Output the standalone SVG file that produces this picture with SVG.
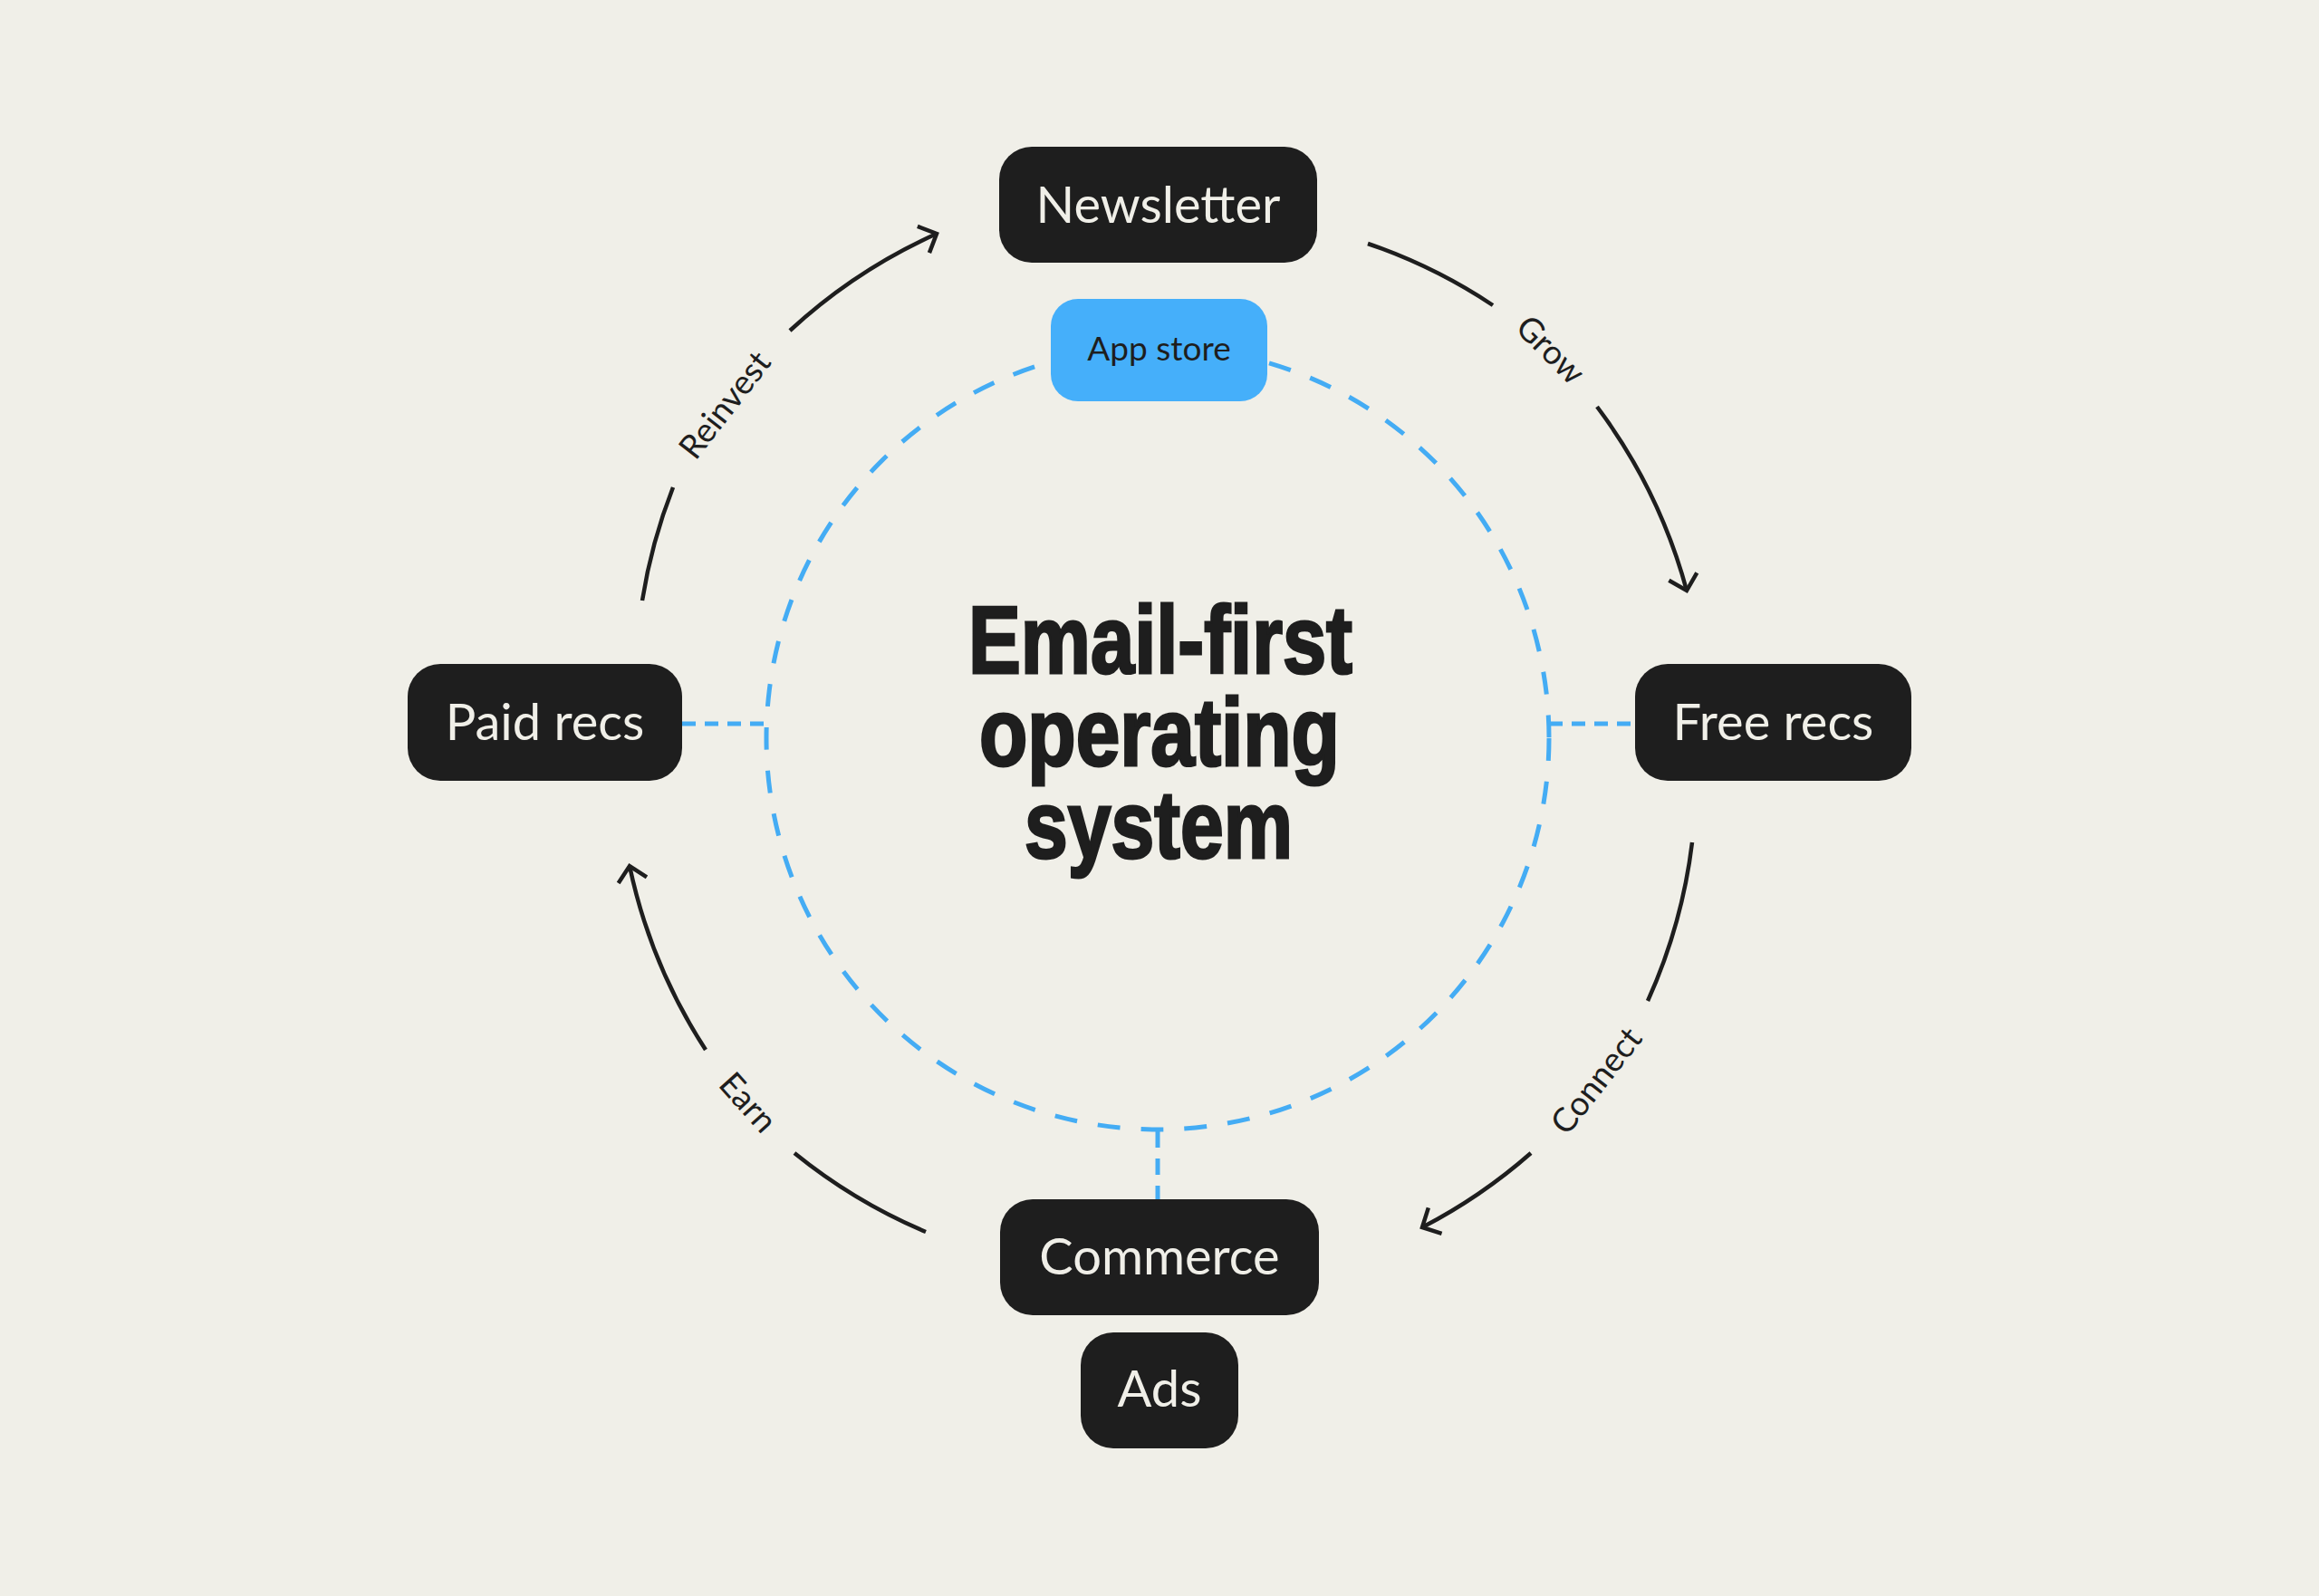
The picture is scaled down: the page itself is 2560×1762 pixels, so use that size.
<svg xmlns="http://www.w3.org/2000/svg" width="2560" height="1762" viewBox="0 0 2560 1762">
<defs>
<style>
.box{fill:#1E1E1E}
.lbl{font-family:Lato,"Noto Sans",sans-serif;font-size:56px;fill:#F0EFE8;text-anchor:middle}
.arc{fill:none;stroke:#1E1E1E;stroke-width:4.5;stroke-linecap:butt}
.dash{fill:none;stroke:#44ACF4;stroke-width:5}
.edge{font-family:Lato,"Noto Sans",sans-serif;font-size:37px;fill:#1E1E1E;text-anchor:middle}
.title{font-family:"Liberation Sans",Arial,sans-serif;font-weight:700;font-size:105px;fill:#1E1E1E;stroke:#1E1E1E;stroke-width:3;text-anchor:middle}
</style>
<marker id="arr" markerUnits="userSpaceOnUse" markerWidth="40" markerHeight="40" refX="0" refY="0" viewBox="-20 -20 40 40" orient="auto" overflow="visible">
<path d="M-16,-16 L0,0 L-16,16" fill="none" stroke="#1E1E1E" stroke-width="4.5" stroke-linejoin="miter"/>
</marker>
</defs>
<rect x="0" y="0" width="2560" height="1762" fill="#F0EFE8"/>

<g id="connectors">
<circle class="dash" cx="1278" cy="815" r="432" stroke-dasharray="25 23"/>
<line class="dash" x1="753" y1="799" x2="846" y2="799" stroke-dasharray="15 10"/>
<line class="dash" x1="1710" y1="799" x2="1805" y2="799" stroke-dasharray="15 10"/>
<line class="dash" x1="1278" y1="1249" x2="1278" y2="1324" stroke-dasharray="18 12"/>
<path class="arc" d="M1510,269 A600,600 0 0 1 1648,337"/>
<path class="arc" d="M1763,449 A600,600 0 0 1 1862,652" marker-end="url(#arr)"/>
<path class="arc" d="M1868,930 A600,600 0 0 1 1819,1105"/>
<path class="arc" d="M1690,1273 A600,600 0 0 1 1570,1355" marker-end="url(#arr)"/>
<path class="arc" d="M1022,1360 A600,600 0 0 1 877,1273"/>
<path class="arc" d="M779,1159 A600,600 0 0 1 695,956" marker-end="url(#arr)"/>
<path class="arc" d="M709,663 A600,600 0 0 1 743,538"/>
<path class="arc" d="M872,365 A600,600 0 0 1 1034,258" marker-end="url(#arr)"/>
<text class="edge" transform="translate(1712,386) rotate(45)" y="13">Grow</text>
<text class="edge" transform="translate(1762,1193) rotate(-52)" y="13">Connect</text>
<text class="edge" transform="translate(826,1217) rotate(48)" y="13">Earn</text>
<text class="edge" transform="translate(800,447) rotate(-52)" y="13">Reinvest</text>
</g>

<g id="newsletter">
<rect class="box" x="1103" y="162" width="351" height="128" rx="36"/>
<text class="lbl" x="1278.5" y="246">Newsletter</text>
</g>
<g id="app-store">
<rect x="1160" y="330" width="239" height="113" rx="30" fill="#45AFFA"/>
<text x="1279.5" y="398" font-family="Lato,'Noto Sans',sans-serif" font-size="37" fill="#1E1E1E" text-anchor="middle">App store</text>
</g>
<g id="free-recs">
<rect class="box" x="1805" y="733" width="305" height="129" rx="36"/>
<text class="lbl" x="1957.5" y="817">Free recs</text>
</g>
<g id="paid-recs">
<rect class="box" x="450" y="733" width="303" height="129" rx="36"/>
<text class="lbl" x="601.5" y="817">Paid recs</text>
</g>
<g id="commerce">
<rect class="box" x="1104" y="1324" width="352" height="128" rx="36"/>
<text class="lbl" x="1280" y="1407">Commerce</text>
</g>
<g id="ads">
<rect class="box" x="1193" y="1471" width="174" height="128" rx="36"/>
<text class="lbl" x="1280" y="1553">Ads</text>
</g>
<g id="title">
<text class="title" x="1281" y="743" textLength="424" lengthAdjust="spacingAndGlyphs">Email-first</text>
<text class="title" x="1280" y="845" textLength="398" lengthAdjust="spacingAndGlyphs">operating</text>
<text class="title" x="1279" y="947" textLength="296" lengthAdjust="spacingAndGlyphs">system</text>
</g>
</svg>
